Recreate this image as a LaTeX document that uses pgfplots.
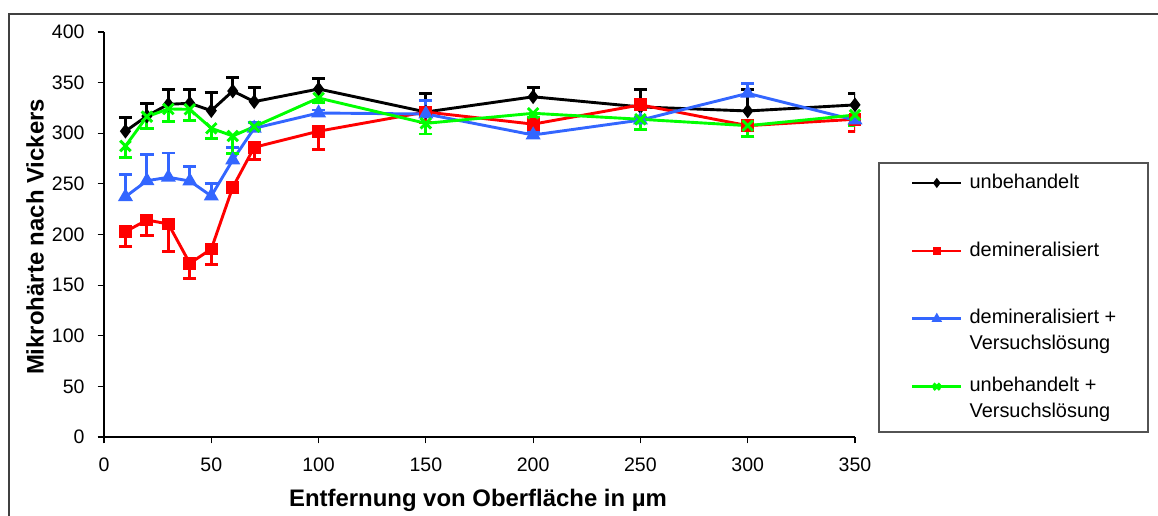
\documentclass[border=0pt]{standalone}
\usepackage{fontspec}
\setmainfont{Liberation Sans}
\usepackage{pgfplots}
\pgfplotsset{compat=1.18}
\definecolor{cblue}{RGB}{51,102,255}
\definecolor{cgreen}{RGB}{0,255,0}
\definecolor{cred}{RGB}{255,0,0}
\definecolor{frame}{RGB}{64,64,64}
\newcommand{\ent}[1]{\strut\smash{\begin{tabular}[t]{@{}l@{}}#1\end{tabular}}}
\begin{document}
\begin{tikzpicture}
\useasboundingbox (0,0) rectangle (579bp,258bp);
\draw[frame, line width=1.1bp] (4.5bp,251bp) rectangle (640bp,-40bp);
\draw[frame!90, line width=0.6bp, fill=white] (439.5bp,176.5bp) rectangle (574bp,42bp);
\begin{axis}[
  at={(52bp,39.5bp)}, anchor=south west,
  scale only axis, width=375.5bp, height=202.5bp,
  xmin=0, xmax=350, ymin=0, ymax=400,
  axis x line*=bottom, axis y line*=left,
  axis line style={line width=0.6bp, black},
  xtick={0,50,...,350}, ytick={0,50,...,400},
  tick align=outside, major tick length=3.2bp,
  tick style={line width=0.6bp, black},
  /pgf/number format/assume math mode=true,
  ticklabel style={font=\fontsize{9.8}{11}\selectfont},
  xticklabel style={yshift=-3.5bp},
  yticklabel style={xshift=-3bp},
  xlabel={\bfseries Entfernung von Oberfläche in µm},
  ylabel={\bfseries Mikrohärte nach Vickers},
  label style={font=\fontsize{12}{14}\selectfont},
  xlabel style={at={(axis description cs:0.498,-0.1556)}, anchor=center},
  ylabel style={at={(axis description cs:-0.0919,0.494)}, anchor=center, rotate=0},
  every axis plot/.append style={line width=1.45bp},
  error bars/error bar style={line width=1.45bp},
  legend image code/.code={\draw[mark repeat=2,mark phase=2,#1, line width=1.3bp, every mark/.append style={scale=0.6}] plot coordinates {(0bp,0bp) (12.25bp,0bp) (24.5bp,0bp)};},
  legend style={draw=none, fill=none, inner sep=0pt, outer sep=0pt,
    at={(axis description cs:1.07457,0.65926)}, anchor=north west,
    row sep=21bp, column sep=3.5bp,
    nodes={inner sep=0pt, text depth={}},
    font=\fontsize{10}{13}\selectfont},
  legend cell align=left,
]
\addplot[black, mark=diamond*, mark size=2.5bp, mark options={solid},
  error bars/.cd, y dir=plus, y explicit, error mark=-, error mark options={black, line width=1.45bp, mark size=3.3bp, rotate=90}]
coordinates {
(10,302) +- (0,13.5)
(20,317) +- (0,12)
(30,328.6) +- (0,15)
(40,329.6) +- (0,14)
(50,322.3) +- (0,18)
(60,341.7) +- (0,13)
(70,331.2) +- (0,14)
(100,343.7) +- (0,10)
(150,321) +- (0,18)
(200,336) +- (0,9)
(250,326) +- (0,17)
(300,322) +- (0,21)
(350,328) +- (0,11)
};
\addlegendentry{\ent{unbehandelt}}
\addplot[cred, mark=square*, mark size=2.5bp, mark options={solid},
  error bars/.cd, y dir=minus, y explicit, error mark=-, error mark options={cred, line width=1.45bp, mark size=3.3bp, rotate=90}]
coordinates {
(10,202.8) +- (0,15)
(20,214.3) +- (0,15)
(30,210.4) +- (0,27)
(40,171.5) +- (0,15)
(50,185.7) +- (0,15)
(60,246.6) +- (0,5)
(70,286.1) +- (0,12)
(100,302) +- (0,18)
(150,321) +- (0,10)
(200,309) +- (0,4)
(250,328) +- (0,5)
(300,307.5) +- (0,11)
(350,313.8) +- (0,12)
};
\addlegendentry{\ent{demineralisiert}}
\addplot[cblue, mark=triangle*, mark size=2.9bp, mark options={solid},
  error bars/.cd, y dir=plus, y explicit, error mark=-, error mark options={cblue, line width=1.45bp, mark size=3.3bp, rotate=90}]
coordinates {
(10,237.3) +- (0,22)
(20,253.1) +- (0,26)
(30,256.5) +- (0,24)
(40,252.8) +- (0,14)
(50,238) +- (0,12.5)
(60,273.6) +- (0,12)
(70,304.9) +- (0,6)
(100,320) +- (0,3)
(150,319) +- (0,13)
(200,298.3) +- (0,3)
(250,313) +- (0,3)
(300,339.4) +- (0,10)
(350,313) +- (0,3)
};
\addlegendentry{\ent{demineralisiert +\\Versuchslösung}}
\addplot[cgreen, mark=x, mark size=3.7bp, mark options={solid, line width=1.45bp},
  error bars/.cd, y dir=minus, y explicit, error mark=-, error mark options={cgreen, line width=1.45bp, mark size=3.3bp, rotate=90}]
coordinates {
(10,287.4) +- (0,11)
(20,316.4) +- (0,12)
(30,324) +- (0,12)
(40,323.6) +- (0,11)
(50,304.9) +- (0,10)
(60,297.3) +- (0,17)
(70,306.5) +- (0,3)
(100,334.8) +- (0,4)
(150,309.8) +- (0,10.5)
(200,319.7) +- (0,4)
(250,313.8) +- (0,10)
(300,307.5) +- (0,11)
(350,318) +- (0,10)
};
\addlegendentry{\ent{unbehandelt +\\Versuchslösung}}
\end{axis}
\end{tikzpicture}
\end{document}
